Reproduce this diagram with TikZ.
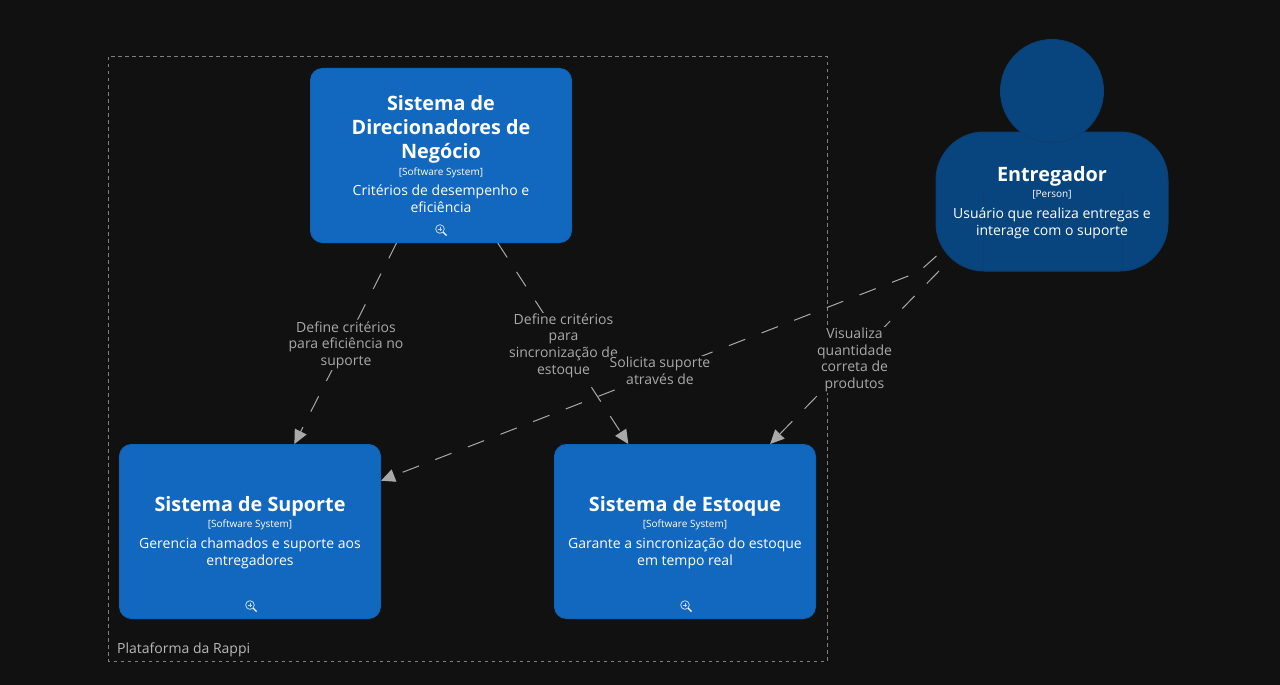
\documentclass[tikz,border=0pt]{standalone}
\usepackage{fontspec}
\setmainfont{Open Sans}
\usetikzlibrary{arrows.meta}
\definecolor{bgc}{HTML}{111111}
\definecolor{sysfill}{HTML}{1268BE}
\definecolor{sysline}{HTML}{1062B4}
\definecolor{perfill}{HTML}{08457F}
\definecolor{perline}{HTML}{0A4074}
\definecolor{linkc}{HTML}{A9A9A9}
\definecolor{bound}{HTML}{7F7F7F}
\newcommand{\ttl}{\fontsize{19.8}{24}\bfseries\selectfont}
\newcommand{\tag}[1]{\par\vspace{3.5pt}{\fontsize{10}{13}\selectfont #1\par}\vspace{3.5pt}}
\newcommand{\dsc}{\fontsize{14}{17}\selectfont}
\tikzset{
  x=1pt,y=-1pt,
  sysbox/.style={draw=sysline,fill=sysfill,rounded corners=12pt,line width=1pt,minimum width=261pt,minimum height=174pt,inner sep=0pt,text=white,align=center},
  perpart/.style={draw=perline,fill=perfill,line width=1pt},
  rel/.style={draw=linkc,line width=1pt,dash pattern=on 17.2pt off 17.2pt,-{Triangle[length=14pt,width=13pt,fill=linkc]}},
  relp/.style={rel,dash pattern=on 17.5pt off 17.5pt},
  rellabel/.style={fill=bgc,text=linkc,inner sep=1pt,align=center,font=\fontsize{14}{16.6}\selectfont},
  zoomicon/.pic={\draw[white!75!sysfill,line width=.8pt] (0,0) circle[radius=4.3pt];
    \draw[white!75!sysfill,line width=.6pt] (-2,0) -- (2,0) (0,-2) -- (0,2);
    \draw[white,line width=1.3pt] (3.2,3.2) -- (6.5,6.5);}
}
\begin{document}
\begin{tikzpicture}
\fill[bgc] (0,0) rectangle (1280,685);
\useasboundingbox (0,0) rectangle (1280,685);
\draw[bound,line width=1pt,dash pattern=on 3.5pt off 3.5pt] (108.5,57) rectangle (827,661);
\node[anchor=base west,inner sep=0pt,font=\fontsize{14}{17}\selectfont,text=white!72!black] (lbl) at (117,653) {Plataforma da Rappi};

\node[sysbox] (dir) at (441,155.5) {\begin{minipage}{240pt}\centering\vspace{-2pt}{\ttl Sistema de\\Direcionadores de\\Negócio\par}\tag{[Software System]}{\dsc Critérios de desempenho e\\eficiência\par}\end{minipage}};
\node[sysbox] (sup) at (250,531.5) {\begin{minipage}{240pt}\centering\vspace{2pt}{\ttl Sistema de Suporte\par}\tag{[Software System]}{\dsc Gerencia chamados e suporte aos\\entregadores\par}\end{minipage}};
\node[sysbox] (est) at (685,531.5) {\begin{minipage}{240pt}\centering\vspace{2pt}{\ttl Sistema de Estoque\par}\tag{[Software System]}{\dsc Garante a sincronização do estoque\\em tempo real\par}\end{minipage}};
\pic at (440,229) {zoomicon};
\pic at (250,605) {zoomicon};
\pic at (685,605) {zoomicon};

\node[perpart,rounded corners=48pt,minimum width=232pt,minimum height=139pt,inner sep=0pt] (body) at (1052,201.5) {};
\draw[perline,line width=.7pt] (983,190) -- (983,271) (1122,190) -- (1122,271);
\node[perpart,circle,minimum size=103pt,inner sep=0pt] (head) at (1052,91) {};
\node[text=white,align=center,anchor=center] (ptext) at (1052,202) {\begin{minipage}{220pt}\centering\vspace{1pt}{\ttl Entregador\par}\tag{[Person]}{\dsc Usuário que realiza entregas e\\interage com o suporte\par}\end{minipage}};

\coordinate (pa) at (936.5,256);
\coordinate (pk) at (918.6,272);
\coordinate (pb) at (939,271);
\draw[rel] (dir) -- (sup);
\draw[rel] (dir) -- (est);
\draw[relp] (pa) -- (pk) -- (sup);
\draw[relp] (pb) -- (est);

\node[rellabel] (l1) at (346,345) {Define critérios\\para eficiência no\\suporte};
\node[rellabel] (l2) at (563.5,345.5) {Define critérios\\para\\sincronização de\\estoque};
\node[rellabel] (l3) at (660,370.5) {Solicita suporte\\através de};
\node[rellabel] (l4) at (854.5,360) {Visualiza\\quantidade\\correta de\\produtos};
\end{tikzpicture}
\end{document}
